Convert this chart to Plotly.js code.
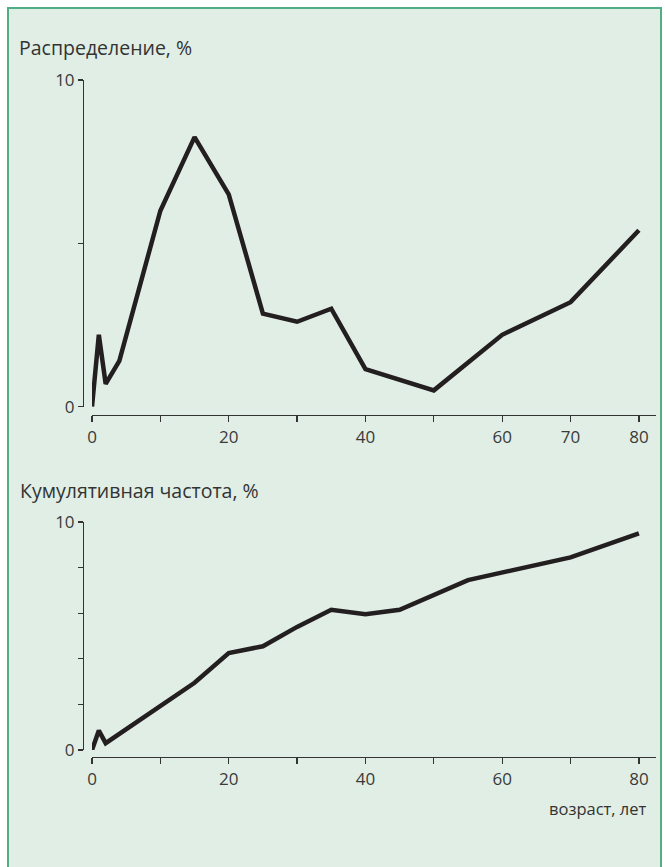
<!DOCTYPE html>
<html>
<head>
<meta charset="utf-8">
<script src="https://cdn.plot.ly/plotly-3.0.1.min.js"></script>
<style>html,body{margin:0;padding:0;background:#fff;}#chart{width:665px;height:867px;}</style>
</head>
<body>
<div id="chart"></div>
<script>
// Top panel: distribution, %
const distAge = [0, 1, 2, 4, 10, 15, 20, 25, 30, 35, 40, 50, 60, 70, 80];
const distValue = [0, 2.2, 0.7, 1.4, 6.0, 8.25, 6.5, 2.85, 2.6, 3.0, 1.15, 0.5, 2.2, 3.2, 5.4];

// Bottom panel: cumulative frequency, %
const cumAge = [0, 1, 2, 15, 20, 25, 30, 35, 40, 45, 55, 70, 80];
const cumValue = [0, 0.85, 0.3, 2.95, 4.25, 4.55, 5.4, 6.15, 5.95, 6.15, 7.45, 8.45, 9.5];

const xTickVals = [0, 10, 20, 30, 40, 50, 60, 70, 80];
const xTickTextTop = ['0', '', '20', '', '40', '', '60', '70', '80'];
const xTickTextBottom = ['0', '', '20', '', '40', '', '60', '', '80'];
const yTickValsTop = [0, 5, 10];
const yTickTextTop = ['0', '', '10'];
const yTickValsBottom = [0, 2, 4, 6, 8, 10];
const yTickTextBottom = ['0', '', '', '', '', '10'];

const titleTop = 'Распределение, %';
const titleBottom = 'Кумулятивная частота, %';
const xLabel = 'возраст, лет';

const W = 665, H = 867;
const px = v => v / W;
const py = v => 1 - v / H;

const FONT = 'Open Sans, Noto Sans, sans-serif';
const lineStyle = {color: '#231f20', width: 4.5};
const tickFont = {family: FONT, size: 17, color: '#3a3a3a'};
const axisCommon = {
  showgrid: false, zeroline: false, showline: true,
  linecolor: '#333', linewidth: 1.3,
  ticks: 'outside', ticklen: 6, tickwidth: 1.3, tickcolor: '#333',
  tickfont: tickFont, fixedrange: true
};

const traces = [
  {x: distAge, y: distValue, xaxis: 'x', yaxis: 'y', type: 'scatter', mode: 'lines',
   line: lineStyle, hoverinfo: 'skip'},
  {x: cumAge, y: cumValue, xaxis: 'x2', yaxis: 'y2', type: 'scatter', mode: 'lines',
   line: lineStyle, hoverinfo: 'skip'}
];

const xDomain = [px(92), px(656)];
const xRange = [0, 82.5];

const layout = {
  width: W, height: H,
  margin: {l: 0, r: 0, t: 0, b: 0},
  paper_bgcolor: '#ffffff',
  plot_bgcolor: 'rgba(0,0,0,0)',
  showlegend: false,
  xaxis: Object.assign({}, axisCommon, {
    domain: xDomain, range: xRange, anchor: 'free', position: py(415),
    tickmode: 'array', tickvals: xTickVals, ticktext: xTickTextTop
  }),
  yaxis: Object.assign({}, axisCommon, {
    domain: [py(406.7), py(80)], range: [0, 10], anchor: 'free', position: px(83),
    tickmode: 'array', tickvals: yTickValsTop, ticktext: yTickTextTop, ticklen: 5
  }),
  xaxis2: Object.assign({}, axisCommon, {
    domain: xDomain, range: xRange, anchor: 'free', position: py(757),
    tickmode: 'array', tickvals: xTickVals, ticktext: xTickTextBottom
  }),
  yaxis2: Object.assign({}, axisCommon, {
    domain: [py(750), py(522)], range: [0, 10], anchor: 'free', position: px(83),
    tickmode: 'array', tickvals: yTickValsBottom, ticktext: yTickTextBottom, ticklen: 5
  }),
  shapes: [{
    type: 'rect', xref: 'paper', yref: 'paper', layer: 'below',
    x0: px(8), x1: px(661), y0: -0.05, y1: py(8),
    fillcolor: '#e0eee5', line: {color: '#4fae84', width: 2}
  }],
  annotations: [
    {text: titleTop, xref: 'paper', yref: 'paper', x: px(17), y: py(48),
     xanchor: 'left', yanchor: 'middle', showarrow: false,
     font: {family: FONT, size: 19.5, color: '#333'}},
    {text: titleBottom, xref: 'paper', yref: 'paper', x: px(18), y: py(490),
     xanchor: 'left', yanchor: 'middle', showarrow: false,
     font: {family: FONT, size: 19.5, color: '#333'}},
    {text: xLabel, xref: 'paper', yref: 'paper', x: px(649), y: py(808),
     xanchor: 'right', yanchor: 'middle', showarrow: false,
     font: {family: FONT, size: 16.5, color: '#333'}}
  ]
};

Plotly.newPlot('chart', traces, layout, {displayModeBar: false, staticPlot: true});
</script>
</body>
</html>
